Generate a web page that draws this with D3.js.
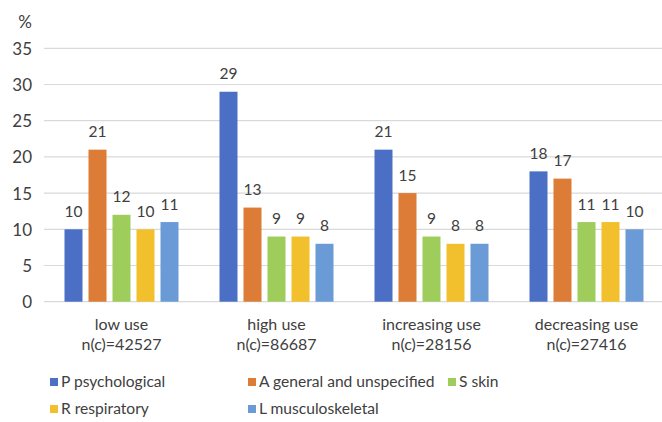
<!DOCTYPE html>
<html>
<head>
<meta charset="utf-8">
<script src="https://cdn.jsdelivr.net/npm/d3@7"></script>
<style>
  html, body { margin: 0; padding: 0; background: #fff; }
  svg { display: block; }
  text { font-family: Lato, "Open Sans", sans-serif; fill: #404040; }
</style>
</head>
<body>
<svg id="chart" width="662" height="422"></svg>
<script>
// Usage groups (two-line axis labels)
const groups = ["low use", "high use", "increasing use", "decreasing use"];
const groupCounts = ["n(c)=42527", "n(c)=86687", "n(c)=28156", "n(c)=27416"];

// Diagnosis chapters
const series = ["P psychological", "A general and unspecified", "S skin", "R respiratory", "L musculoskeletal"];
const colors = ["#4a6fc4", "#dc7c36", "#9ecd5c", "#f2c02c", "#6b9bd7"];

// Share (%) per chapter, one array per usage group
const lowUse        = [10, 21, 12, 10, 11];
const highUse       = [29, 13, 9, 9, 8];
const increasingUse = [21, 15, 9, 8, 8];
const decreasingUse = [18, 17, 11, 11, 10];
const values = [lowUse, highUse, increasingUse, decreasingUse];

const yTicks = [0, 5, 10, 15, 20, 25, 30, 35];

const svg = d3.select("#chart");

const plot = { left: 44, right: 664, top: 48.3, bottom: 301.7 };

const x0 = d3.scaleBand().domain(groups).range([plot.left, plot.right]).padding(0);
const groupW = 114;
const x1 = d3.scaleBand().domain(series)
  .range([x0.bandwidth() / 2 - groupW / 2, x0.bandwidth() / 2 + groupW / 2])
  .paddingInner(0.25).paddingOuter(0);
const y = d3.scaleLinear().domain([0, 35]).range([plot.bottom, plot.top]);

// gridlines
svg.append("g")
  .selectAll("line")
  .data(yTicks)
  .join("line")
  .attr("x1", plot.left).attr("x2", plot.right)
  .attr("y1", d => y(d)).attr("y2", d => y(d))
  .attr("stroke", "#d9d9d9").attr("stroke-width", 1.2);

// y axis labels
const yAxis = d3.axisLeft(y).tickValues(yTicks).tickSize(0).tickPadding(0);
const yg = svg.append("g").attr("transform", `translate(32,0)`).call(yAxis);
yg.select(".domain").remove();
yg.selectAll("text")
  .style("font-size", "17px")
  .style("font-family", "Lato, 'Open Sans', sans-serif")
  .attr("fill", "#404040")
  .attr("dy", "0.35em");

svg.append("text")
  .attr("x", 32).attr("y", 22).attr("dy", "0.35em")
  .attr("text-anchor", "end")
  .style("font-size", "17px")
  .text("%");

// bars
const gGroups = svg.append("g")
  .selectAll("g")
  .data(groups)
  .join("g")
  .attr("transform", d => `translate(${x0(d)},0)`);

gGroups.selectAll("rect")
  .data((g, gi) => series.map((s, si) => ({ s, si, v: values[gi][si] })))
  .join("rect")
  .attr("x", d => x1(d.s))
  .attr("width", x1.bandwidth())
  .attr("y", d => y(d.v))
  .attr("height", d => y(0) - y(d.v))
  .attr("fill", d => colors[d.si]);

gGroups.selectAll("text.val")
  .data((g, gi) => series.map((s, si) => ({ s, si, v: values[gi][si] })))
  .join("text")
  .attr("class", "val")
  .attr("x", d => x1(d.s) + x1.bandwidth() / 2)
  .attr("y", d => y(d.v) - 12.5)
  .attr("text-anchor", "middle")
  .style("font-size", "15.5px")
  .text(d => d.v);

// category labels
const xAxis = svg.append("g");
xAxis.selectAll("text.cat")
  .data(groups)
  .join("text")
  .attr("class", "cat")
  .attr("x", d => x0(d) + x0.bandwidth() / 2)
  .attr("y", 324).attr("dy", "0.35em")
  .attr("text-anchor", "middle")
  .style("font-size", "16px")
  .text(d => d);
xAxis.selectAll("text.cnt")
  .data(groupCounts)
  .join("text")
  .attr("class", "cnt")
  .attr("x", (d, i) => x0(groups[i]) + x0.bandwidth() / 2)
  .attr("y", 344).attr("dy", "0.35em")
  .attr("text-anchor", "middle")
  .style("font-size", "16px")
  .text(d => d);

// legend
const legendPos = [[50, 382], [248, 382], [448, 382], [50, 409], [248, 409]];
const leg = svg.append("g")
  .selectAll("g")
  .data(series)
  .join("g")
  .attr("transform", (d, i) => `translate(${legendPos[i][0]},${legendPos[i][1]})`);
leg.append("rect")
  .attr("x", 0).attr("y", -4).attr("width", 8).attr("height", 8)
  .attr("fill", (d, i) => colors[i]);
leg.append("text")
  .attr("x", 11).attr("y", 0).attr("dy", "0.35em")
  .style("font-size", "15.6px")
  .text(d => d);
</script>
</body>
</html>
